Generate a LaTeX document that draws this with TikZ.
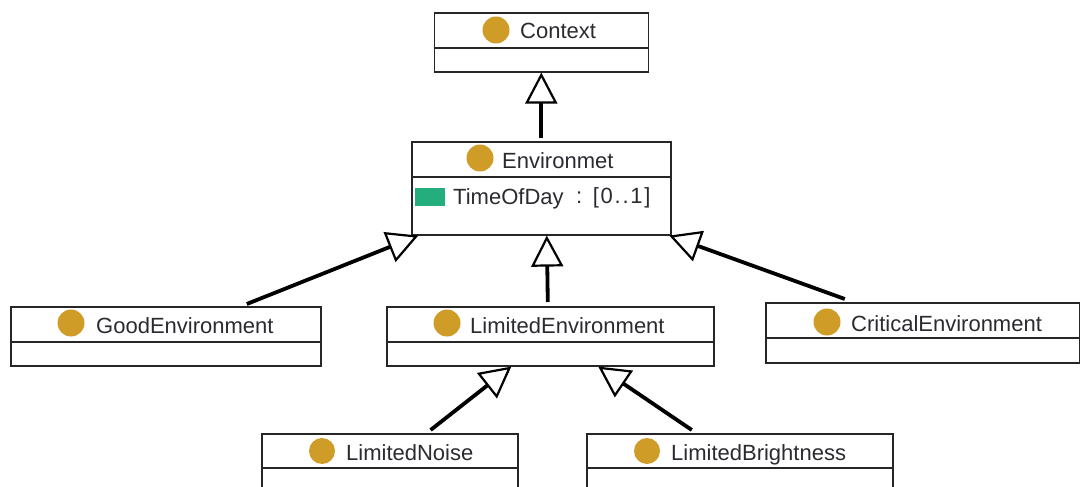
\documentclass[tikz,border=0pt]{standalone}
\usepackage{fontspec}
\setmainfont{Liberation Sans}
\usetikzlibrary{arrows.meta,calc}
\definecolor{classdot}{HTML}{CF9C28}
\definecolor{attrgreen}{HTML}{24AE7E}
\definecolor{labelgray}{HTML}{2A2A30}
\begin{document}
\begin{tikzpicture}[x=1pt, y=-1pt,
		classbox/.style = {draw=black!85, line width=1.6pt, inner sep=0pt, anchor=north west},
		dot/.style = {circle, fill=classdot, minimum size=27pt, inner sep=0pt},
		label/.style = {anchor=base west, inner sep=0pt, text=labelgray, font=\fontsize{22}{24}\selectfont},
		divider/.style = {draw=black!85, line width=1.6pt},
		inherits/.style = {line width=3.8pt, -{Triangle[open, length=31pt, width=32pt, line width=2.2pt, fill=white]}}]
	\useasboundingbox (0,0) rectangle (1080,487);
	% class boxes
	\node[classbox, minimum width=214pt, minimum height=59pt] (context) at (433.5,12) {};
	\node[classbox, minimum width=259pt, minimum height=93pt] (env) at (411,141) {};
	\node[classbox, minimum width=310pt, minimum height=59pt] (good) at (10,306) {};
	\node[classbox, minimum width=327pt, minimum height=59pt] (limited) at (386,306) {};
	\node[classbox, minimum width=314pt, minimum height=60pt] (critical) at (765,302) {};
	\node[classbox, minimum width=256pt, minimum height=60pt] (noise) at (261,433) {};
	\node[classbox, minimum width=306pt, minimum height=60pt] (bright) at (586,433) {};
	% dividers
	\draw[divider] (context.west |- 0,48) -- (context.east |- 0,48);
	\draw[divider] (env.west |- 0,177) -- (env.east |- 0,177);
	\draw[divider] (good.west |- 0,342) -- (good.east |- 0,342);
	\draw[divider] (limited.west |- 0,342) -- (limited.east |- 0,342);
	\draw[divider] (critical.west |- 0,338) -- (critical.east |- 0,338);
	\draw[divider] (noise.west |- 0,468) -- (noise.east |- 0,468);
	\draw[divider] (bright.west |- 0,468) -- (bright.east |- 0,468);
	% icons
	\node[dot] (d1) at (496,30) {};
	\node[dot] (d2) at (480,158) {};
	\node[dot] (d3) at (71,323) {};
	\node[dot] (d4) at (447,323) {};
	\node[dot] (d5) at (827,322) {};
	\node[dot, minimum size=26pt] (d6) at (322,451) {};
	\node[dot, minimum size=26pt] (d7) at (647,451) {};
	\node[fill=attrgreen, minimum width=30pt, minimum height=18pt, inner sep=0pt] (attr) at (430,197) {};
	% names
	\node[label] (l1) at (520,39) {Context};
	\node[label] (l2) at (502,168) {Environmet};
	\node[label] (l3) at (96,333) {GoodEnvironment};
	\node[label] (l4) at (470,333) {LimitedEnvironment};
	\node[label] (l5) at (851,331) {CriticalEnvironment};
	\node[label] (l6) at (346,460) {LimitedNoise};
	\node[label] (l7) at (671,460) {LimitedBrightness};
	\node[label] (l8) at (453,204) {TimeOfDay};
	\node[label] (l9) at (576,203) {\addfontfeature{LetterSpace=8}: [0..1]};
	% generalisations
	\draw[inherits] (env.north) ++(0,-3) -- (env.north |- context.south);
	\draw[inherits] ([xshift=81pt]good.north) ++(0,-2) -- ([xshift=-123pt]env.south);
	\draw[inherits] ([xshift=-2.5pt]limited.north) ++(0,-4) -- ([xshift=5.5pt]env.south);
	\draw[inherits] ([xshift=-78pt]critical.north) ++(0,-3) -- ([xshift=128pt]env.south);
	\draw[inherits] ([xshift=-40pt]noise.north east) ++(-48,-3) -- ([xshift=-39pt]limited.south);
	\draw[inherits] ([xshift=-48pt]bright.north) ++(0,-3) -- ([xshift=48pt]limited.south);
\end{tikzpicture}
\end{document}
